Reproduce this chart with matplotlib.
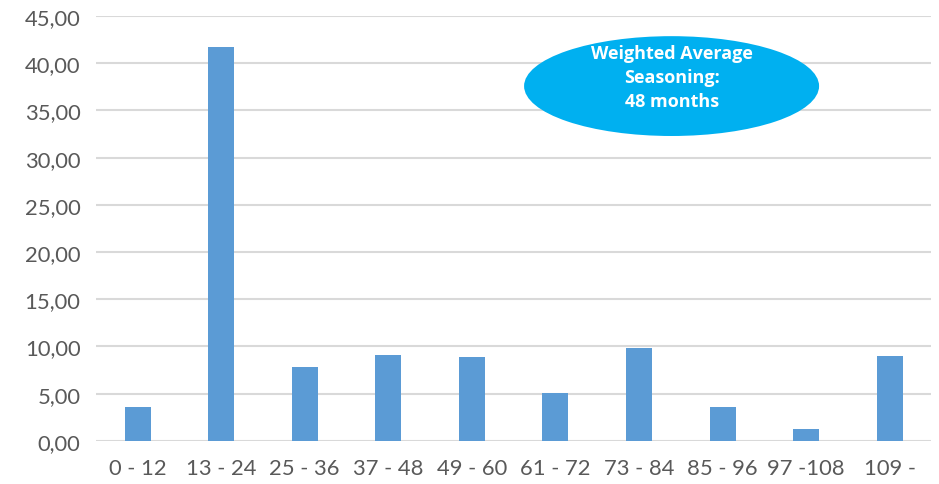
import matplotlib.pyplot as plt
from matplotlib.patches import Ellipse
import numpy as np

# Data
categories = ['0 - 12', '13 - 24', '25 - 36', '37 - 48', '49 - 60',
              '61 - 72', '73 - 84', '85 - 96', '97 -108', '109 -']
values = [3.6, 41.7, 7.8, 9.05, 8.87, 5.1, 9.83, 3.6, 1.24, 9.0]
yticks = [0, 5, 10, 15, 20, 25, 30, 35, 40, 45]

plt.rcParams['font.family'] = ['Lato', 'DejaVu Sans']

fig = plt.figure(figsize=(9.39, 4.85), dpi=100)
ax = fig.add_axes([0.102, 0.089, 0.89, 0.876])

x = np.arange(len(categories))
ax.bar(x, values, width=0.31, color='#5B9BD5', zorder=3)

ax.set_xlim(-0.5, len(categories) - 0.5)
ax.set_ylim(0, 45)
ax.set_yticks(yticks)
ax.set_yticklabels([f'{v:.2f}'.replace('.', ',') for v in yticks])
ax.set_xticks(x)
ax.set_xticklabels(categories)
ax.tick_params(axis='both', length=0, labelsize=15.8, labelcolor='#595959')
ax.tick_params(axis='x', pad=12)
ax.tick_params(axis='y', pad=11)

ax.grid(axis='y', color='#D9D9D9', linewidth=1.5, zorder=0)
for s in ax.spines.values():
    s.set_visible(False)

# callout ellipse
ell = Ellipse((0.689, 0.835), 0.353, 0.235, transform=ax.transAxes,
              facecolor='#00B0F0', edgecolor='none', zorder=4)
ax.add_patch(ell)
ax.text(0.689, 0.856, 'Weighted Average\nSeasoning:\n48 months',
        transform=ax.transAxes, ha='center', va='center', color='white',
        fontsize=13, fontweight='bold', family=['Open Sans', 'DejaVu Sans'],
        linespacing=1.42, zorder=5)

fig.savefig('out.png', dpi=100)
